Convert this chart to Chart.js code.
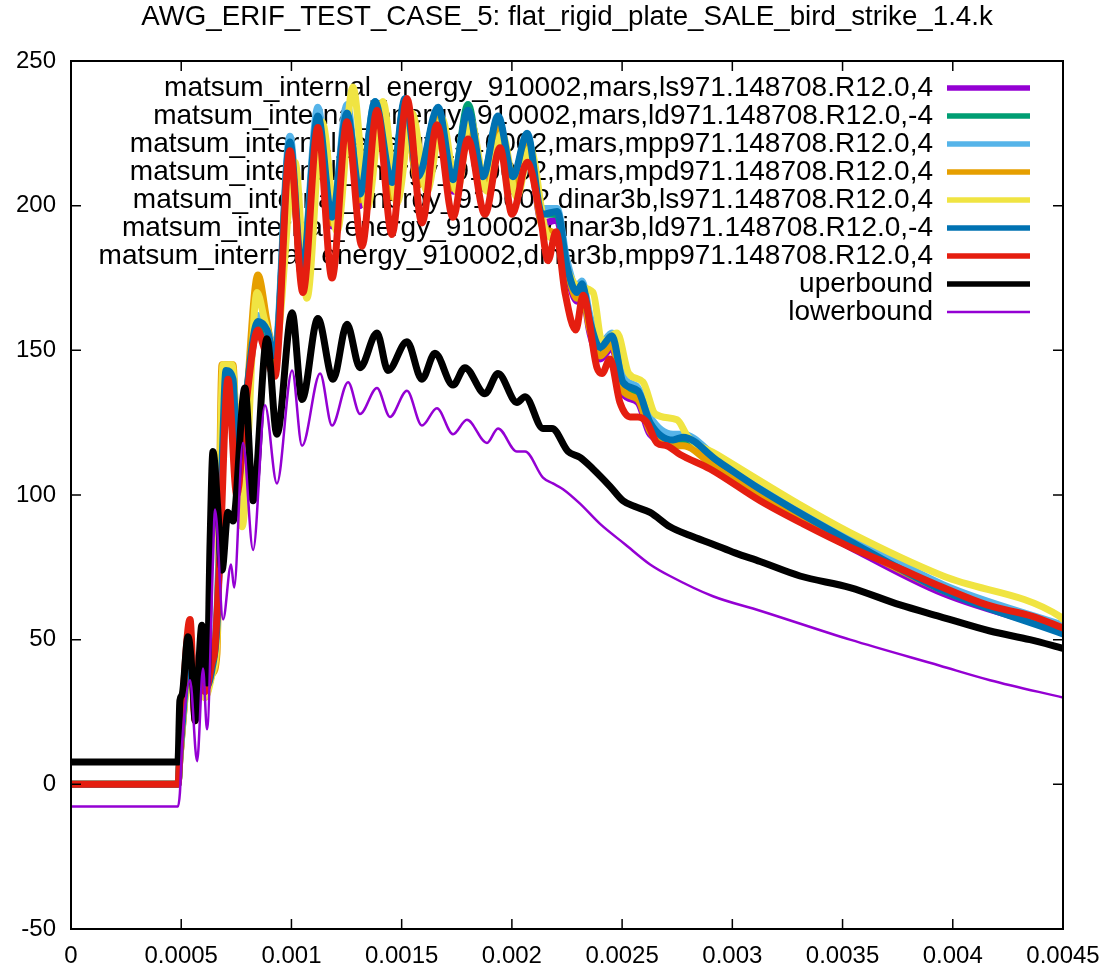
<!DOCTYPE html>
<html>
<head>
<meta charset="utf-8">
<script src="https://cdn.jsdelivr.net/npm/chart.js@4.4.0/dist/chart.umd.min.js"></script>
<style>
  html, body { margin: 0; padding: 0; background: #fff; }
  #wrap { width: 1118px; height: 972px; }
</style>
</head>
<body>
<div id="wrap"><canvas id="chart"></canvas></div>
<script>
const title = 'AWG_ERIF_TEST_CASE_5: flat_rigid_plate_SALE_bird_strike_1.4.k';

const xTicks = [0, 0.0005, 0.001, 0.0015, 0.002, 0.0025, 0.003, 0.0035, 0.004, 0.0045];
const yTicks = [-50, 0, 50, 100, 150, 200, 250];

// times are in microseconds
const tMars = [0, 485, 494, 517, 540, 563, 581, 608, 640, 662, 685, 703, 735, 758, 789, 848, 889, 925, 993, 1048,
  1120, 1184, 1252, 1311, 1379, 1456, 1515, 1574, 1665, 1733, 1801, 1869, 1937, 2005, 2069, 2137, 2205, 2250, 2295, 2318,
  2354, 2400, 2454, 2504, 2572, 2627, 2731, 2776, 2930, 3126, 3534, 3956, 4500];

const marsLs = [0, 0, 9, 31, 50, 25, 36, 32, 39, 52, 108, 140, 138, 103, 127, 158, 155, 146, 220, 175,
  229, 193, 230, 200, 234, 204, 235, 207, 231, 205, 230, 206, 228, 205, 222, 194, 195, 177, 167, 170,
  156, 147, 151, 135, 132, 121, 118, 118, 109, 99, 82, 66, 53];
const marsLd = [0, 0, 9, 33, 51, 24, 37, 32, 40, 56, 112, 142, 139, 104, 129, 159, 156, 147, 221, 176,
  230, 195, 231, 203, 235, 207, 236, 209, 233, 208, 235, 209, 230, 209, 224, 197, 197, 178, 169, 172,
  159, 150, 154, 138, 135, 124, 118, 119, 111, 101, 84, 68, 53];
const marsMpp = [0, 0, 10, 32, 50, 26, 36, 34, 42, 60, 115, 145, 142, 100, 128, 162, 158, 150, 224, 178,
  234, 195, 235, 203, 236, 207, 236, 209, 233, 209, 232, 210, 230, 209, 224, 199, 199, 181, 172, 174,
  162, 152, 156, 141, 137, 127, 121, 121, 113, 104, 86, 69, 55];
const marsMpd = [0, 0, 9, 30, 48, 24, 35, 30, 38, 45, 145, 145, 145, 100, 125, 176, 160, 146, 220, 175,
  229, 194, 230, 202, 234, 203, 235, 207, 231, 206, 230, 207, 228, 206, 222, 193, 190, 178, 168, 170,
  157, 148, 152, 136, 133, 122, 117, 117, 109, 100, 83, 67, 53];
const dinarLd = [0, 0, 10, 33, 52, 25, 37, 33, 40, 55, 110, 143, 140, 105, 130, 160, 157, 148, 222, 177,
  231, 196, 232, 204, 236, 208, 237, 210, 234, 209, 233, 210, 231, 210, 225, 197, 198, 179, 170, 173,
  160, 151, 155, 139, 136, 125, 119, 120, 112, 102, 84, 67, 52];

const tDinarLs = [0, 485, 494, 517, 540, 563, 581, 608, 640, 662, 690, 730, 776, 844, 880, 925, 1016, 1070, 1139, 1207,
  1279, 1343, 1415, 1479, 1547, 1615, 1683, 1751, 1810, 1887, 1955, 2023, 2082, 2159, 2205, 2250, 2300, 2368, 2409, 2477,
  2530, 2595, 2650, 2749, 2800, 2930, 3321, 3534, 3956, 4486, 4500];
const dinarLs = [0, 0, 9, 30, 50, 24, 35, 30, 38, 50, 145, 145, 89, 170, 160, 150, 215, 168, 229, 191,
  241, 199, 236, 201, 232, 205, 230, 205, 230, 205, 225, 203, 220, 190, 188, 178, 172, 170, 153, 156,
  142, 139, 128, 126, 120, 114, 96, 87, 72, 58, 57];

const tDinarMpp = [0, 485, 494, 504, 540, 563, 581, 608, 640, 653, 676, 712, 752, 789, 848, 871, 925, 993, 1052, 1120,
  1184, 1252, 1320, 1388, 1456, 1524, 1592, 1660, 1733, 1801, 1878, 1946, 2001, 2069, 2130, 2164, 2200, 2241, 2290, 2323,
  2386, 2409, 2445, 2490, 2536, 2572, 2613, 2658, 2704, 2763, 2899, 3126, 3321, 3534, 3747, 3956, 4155, 4364, 4500];
const dinarMpp = [0, 0, 11, 25, 57, 22, 38, 32, 42, 47, 80, 140, 100, 128, 157, 152, 141, 219, 170, 227,
  175, 229, 186, 233, 190, 237, 194, 228, 196, 223, 197, 220, 197, 215, 196, 181, 191, 170, 157, 169,
  144, 142, 147, 132, 127, 127, 125, 118, 117, 114, 109, 98, 90, 82, 75, 68, 62, 58, 54];

const tUpper = [0, 485, 494, 504, 531, 553, 563, 594, 617, 631, 644, 667, 685, 712, 735, 789, 826, 889, 934, 1003,
  1048, 1120, 1189, 1252, 1311, 1388, 1438, 1524, 1592, 1651, 1733, 1787, 1878, 1937, 2023, 2060, 2141, 2182, 2255, 2309,
  2368, 2445, 2504, 2558, 2627, 2717, 2808, 2912, 3012, 3126, 3307, 3534, 3761, 3942, 4169, 4350, 4500];
const upper = [7.7, 7.7, 29, 31, 51, 35, 22, 55, 35, 84, 115, 94, 74, 94, 91, 137, 98, 154, 121, 163,
  133, 161, 140, 159, 144, 156, 143, 153, 140, 149, 138, 144, 135, 142, 132, 134, 123, 123, 115, 113,
  109, 103, 98, 96, 94, 89, 86, 83, 80, 77, 72, 68, 62, 58, 53, 50, 47];

const tLower = [0, 485, 494, 504, 540, 572, 599, 617, 644, 653, 690, 726, 740, 780, 826, 880, 934, 1003, 1048, 1130,
  1184, 1257, 1311, 1388, 1447, 1524, 1592, 1660, 1733, 1796, 1887, 1937, 2023, 2060, 2141, 2186, 2232, 2309, 2400, 2513,
  2627, 2717, 2912, 3126, 3534, 3942, 4169, 4500];
const lower = [-7.7, -7.7, -3, 14, 36, 8, 40, 19, 77, 95, 57, 76, 68, 118, 81, 131, 104, 143, 117, 142,
  124, 139, 128, 137, 127, 136, 124, 130, 121, 126, 118, 123, 115, 115, 106, 104, 102, 97, 90, 83,
  76, 72, 65, 60, 50, 41, 36, 30];

const toPoints = (times, values) => times.map((t, i) => ({ x: t * 1e-6, y: values[i] }));

const series = [
  { label: 'matsum_internal_energy_910002,mars,ls971.148708.R12.0,4', color: '#9400D3', t: tMars, v: marsLs, w: 7, order: 8 },
  { label: 'matsum_internal_energy_910002,mars,ld971.148708.R12.0,-4', color: '#009E73', t: tMars, v: marsLd, w: 7, order: 7 },
  { label: 'matsum_internal_energy_910002,mars,mpp971.148708.R12.0,4', color: '#56B4E9', t: tMars, v: marsMpp, w: 7, order: 6 },
  { label: 'matsum_internal_energy_910002,mars,mpd971.148708.R12.0,4', color: '#E69F00', t: tMars, v: marsMpd, w: 7, order: 5 },
  { label: 'matsum_internal_energy_910002,dinar3b,ls971.148708.R12.0,4', color: '#F0E442', t: tDinarLs, v: dinarLs, w: 7, order: 4 },
  { label: 'matsum_internal_energy_910002,dinar3b,ld971.148708.R12.0,-4', color: '#0072B2', t: tMars, v: dinarLd, w: 7, order: 3 },
  { label: 'matsum_internal_energy_910002,dinar3b,mpp971.148708.R12.0,4', color: '#E51E10', t: tDinarMpp, v: dinarMpp, w: 7, order: 2 },
  { label: 'uperbound', color: '#000000', t: tUpper, v: upper, w: 7, order: 1 },
  { label: 'lowerbound', color: '#9400D3', t: tLower, v: lower, w: 2.5, order: 0 }
];

const font = 'Liberation Sans, Arial, sans-serif';

const framePlugin = {
  id: 'frame',
  beforeDatasetsDraw(chart) {
    const { ctx, chartArea: a } = chart;
    ctx.save();
    // title
    ctx.fillStyle = '#000';
    ctx.font = '27.7px ' + font;
    ctx.textAlign = 'center';
    ctx.textBaseline = 'middle';
    ctx.fillText(title, (a.left + a.right) / 2, 17);
    // key, under the curves like gnuplot does it
    ctx.font = '28px ' + font;
    ctx.textAlign = 'right';
    chart.data.datasets.forEach((ds, i) => {
      const yy = 88 + i * 28;
      ctx.fillStyle = '#000';
      ctx.fillText(ds.label, 933, yy);
      ctx.strokeStyle = ds.borderColor;
      ctx.lineWidth = ds.borderWidth > 3 ? 5.5 : 2.5;
      ctx.beginPath();
      ctx.moveTo(947, yy);
      ctx.lineTo(1030, yy);
      ctx.stroke();
    });
    ctx.restore();
  },
  afterDatasetsDraw(chart) {
    const { ctx, chartArea: a, scales: { x, y } } = chart;
    ctx.save();
    ctx.strokeStyle = '#000';
    ctx.lineWidth = 1.5;
    ctx.beginPath();
    xTicks.forEach(v => {
      const px = x.getPixelForValue(v);
      ctx.moveTo(px, a.bottom); ctx.lineTo(px, a.bottom - 10);
      ctx.moveTo(px, a.top); ctx.lineTo(px, a.top + 10);
    });
    yTicks.forEach(v => {
      const py = y.getPixelForValue(v);
      ctx.moveTo(a.left, py); ctx.lineTo(a.left + 10, py);
      ctx.moveTo(a.right, py); ctx.lineTo(a.right - 10, py);
    });
    ctx.stroke();
    ctx.lineWidth = 2;
    ctx.strokeRect(a.left, a.top, a.width, a.height);
    ctx.restore();
  }
};

new Chart(document.getElementById('chart'), {
  type: 'line',
  data: {
    datasets: series.map(s => ({
      label: s.label,
      data: toPoints(s.t, s.v),
      borderColor: s.color,
      backgroundColor: s.color,
      borderWidth: s.w,
      pointRadius: 0,
      fill: false,
      cubicInterpolationMode: 'monotone',
      borderJoinStyle: 'round',
      borderCapStyle: 'round',
      order: s.order
    }))
  },
  options: {
    responsive: true,
    maintainAspectRatio: false,
    animation: false,
    layout: { padding: { top: 61, right: 55, left: 0, bottom: 0 } },
    scales: {
      x: {
        type: 'linear',
        min: 0,
        max: 0.0045,
        grid: { display: false, drawTicks: false },
        border: { display: false },
        afterBuildTicks: s => { s.ticks = xTicks.map(v => ({ value: v })); },
        afterFit: s => { s.height = 43; },
        ticks: {
          color: '#000',
          font: { family: font, size: 24 },
          padding: 13,
          maxRotation: 0,
          autoSkip: false,
          callback: v => String(+v.toFixed(4))
        }
      },
      y: {
        min: -50,
        max: 250,
        grid: { display: false, drawTicks: false },
        border: { display: false },
        afterBuildTicks: s => { s.ticks = yTicks.map(v => ({ value: v })); },
        afterFit: s => { s.width = 71; },
        ticks: {
          color: '#000',
          font: { family: font, size: 24 },
          padding: 15
        }
      }
    },
    plugins: {
      legend: { display: false },
      title: { display: false },
      tooltip: { enabled: false }
    }
  },
  plugins: [framePlugin]
});
</script>
</body>
</html>
